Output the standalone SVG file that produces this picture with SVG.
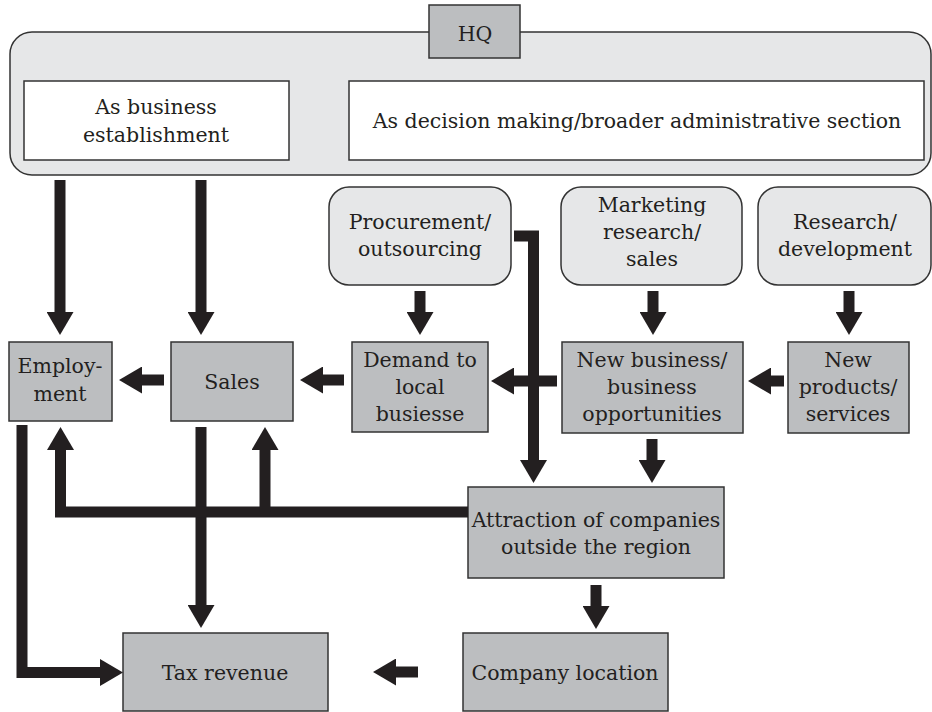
<svg xmlns="http://www.w3.org/2000/svg" width="932" height="712" viewBox="0 0 932 712">
<style>
.light{fill:#e6e7e8;stroke:#333;stroke-width:1.5}
.white{fill:#fff;stroke:#333;stroke-width:1.5}
.gray{fill:#bcbec0;stroke:#333;stroke-width:1.5}
text{font-family:"DejaVu Serif","Liberation Serif",serif;font-size:20.5px;fill:#231f20;text-anchor:middle}
.conn{fill:none;stroke:#231f20;stroke-width:11;stroke-linejoin:miter}
.arr{marker-end:url(#ah)}
</style>
<defs>
<marker id="ah" viewBox="0 0 23 27" refX="0" refY="13.5" markerWidth="23" markerHeight="27" markerUnits="userSpaceOnUse" orient="auto">
<path d="M0,0 L23,13.5 L0,27 Z" fill="#231f20"/>
</marker>
</defs>
<rect width="932" height="712" fill="#fff"/>

<g id="hq">
<rect class="light" x="10" y="32" width="921" height="143" rx="22"/>
<rect class="gray" x="429" y="5" width="91" height="53"/>
<text x="475" y="41">HQ</text>
</g>
<g id="as-business">
<rect class="white" x="24" y="81" width="265" height="79"/>
<text x="156" y="114">As business</text>
<text x="156" y="142">establishment</text>
</g>
<g id="as-decision">
<rect class="white" x="349" y="81" width="575" height="79"/>
<text x="637" y="128">As decision making/broader administrative section</text>
</g>

<g id="procurement">
<rect class="light" x="329" y="187" width="182" height="98" rx="20"/>
<text x="420" y="229">Procurement/</text>
<text x="420" y="256">outsourcing</text>
</g>
<g id="marketing">
<rect class="light" x="561" y="187" width="181" height="98" rx="20"/>
<text x="652" y="212">Marketing</text>
<text x="652" y="239">research/</text>
<text x="652" y="266">sales</text>
</g>
<g id="research">
<rect class="light" x="758" y="187" width="173" height="98" rx="20"/>
<text x="845" y="229">Research/</text>
<text x="845" y="256">development</text>
</g>

<g id="employment">
<rect class="gray" x="9" y="342" width="103" height="79"/>
<text x="60" y="373">Employ-</text>
<text x="60" y="401">ment</text>
</g>
<g id="sales">
<rect class="gray" x="171" y="342" width="122" height="79"/>
<text x="232" y="389">Sales</text>
</g>
<g id="demand">
<rect class="gray" x="352" y="342" width="136" height="90"/>
<text x="420" y="367">Demand to</text>
<text x="420" y="394">local</text>
<text x="420" y="421">busiesse</text>
</g>
<g id="new-business">
<rect class="gray" x="562" y="342" width="181" height="91"/>
<text x="652" y="367">New business/</text>
<text x="652" y="394">business</text>
<text x="652" y="421">opportunities</text>
</g>
<g id="new-products">
<rect class="gray" x="788" y="342" width="121" height="91"/>
<text x="848" y="367">New</text>
<text x="848" y="394">products/</text>
<text x="848" y="421">services</text>
</g>
<g id="attraction">
<rect class="gray" x="468" y="487" width="256" height="91"/>
<text x="596" y="527">Attraction of companies</text>
<text x="596" y="554">outside the region</text>
</g>
<g id="tax">
<rect class="gray" x="123" y="633" width="205" height="78"/>
<text x="225" y="680">Tax revenue</text>
</g>
<g id="company-location">
<rect class="gray" x="463" y="633" width="205" height="78"/>
<text x="565" y="680">Company location</text>
</g>

<g id="connectors">
<path class="conn arr" d="M60,180 V312"/>
<path class="conn arr" d="M201,180 V312"/>
<path class="conn arr" d="M164,380 H142"/>
<path class="conn arr" d="M344,380 H323"/>
<path class="conn arr" d="M557,381 H514"/>
<path class="conn arr" d="M784,381 H771"/>
<path class="conn arr" d="M420,291 V312"/>
<path class="conn arr" d="M653,291 V312"/>
<path class="conn arr" d="M849,291 V312"/>
<path class="conn arr" d="M514,236 H533.5 V460"/>
<path class="conn arr" d="M652,439 V460"/>
<path class="conn arr" d="M596,585 V606"/>
<path class="conn arr" d="M418,672 H396"/>
<path class="conn arr" d="M22,425 V672.5 H100"/>
<path class="conn arr" d="M201,427 V605"/>
<path class="conn arr" d="M468,512 H60.5 V450"/>
<path class="conn arr" d="M265,512 V450"/>
</g>
</svg>
